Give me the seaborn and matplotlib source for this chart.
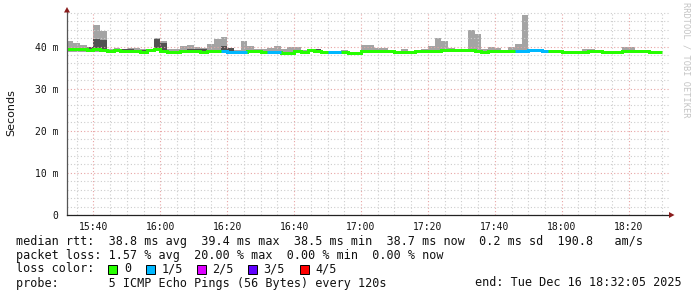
import numpy as np
import pandas as pd
import matplotlib
matplotlib.use("Agg")
import matplotlib.pyplot as plt
from matplotlib.patches import Rectangle, Polygon
import seaborn as sns

# ---------------- data (ms), one value per 2-minute bin starting 15:32 ----------------
bin_start_min = 32          # minutes after 15:00
bin_step_min = 2
view_start_min = 32 + 5 / 60
view_end_min = 212 + 5 / 60

median_ms = [
    39.4, 39.4, 39.35, 39.25, 39.35, 39.15, 38.95, 39.1, 38.95, 38.85,
    38.85, 38.8, 39.2, 39.4, 38.85, 38.6, 38.6, 38.85, 38.85, 38.85,
    38.8, 38.95, 39.05, 39.0, 38.75, 38.75, 38.75, 38.95, 38.9, 38.65,
    38.65, 38.65, 38.55, 38.55, 38.85, 38.75, 39.1, 39.05, 38.8, 38.6,
    38.6, 38.8, 38.5, 38.5, 38.9, 38.9, 38.9, 38.9, 38.9, 38.7,
    38.7, 38.7, 39.0, 39.0, 39.0, 39.0, 39.1, 39.1, 39.1, 39.1,
    39.1, 38.95, 38.7, 38.95, 38.95, 38.95, 38.95, 39.05, 39.0, 39.15,
    39.15, 38.95, 39.0, 39.0, 38.7, 38.7, 38.7, 38.7, 39.0, 39.0,
    38.8, 38.8, 38.8, 39.0, 39.0, 39.0, 39.0, 38.7, 38.7,
]
smoke_max_ms = [
    41.4, 40.8, 40.3, 39.9, 45.2, 43.7, 39.5, 39.6, 39.5, 39.6,
    39.7, 39.4, 39.3, 42.0, 41.4, 39.4, 39.4, 40.1, 40.4, 39.9,
    39.6, 40.6, 41.8, 42.3, 39.6, 39.1, 41.3, 40.1, 39.4, 39.3,
    39.7, 40.1, 39.5, 39.8, 39.8, 39.2, 39.4, 39.3, 39.0, 38.9,
    38.9, 39.1, 38.8, 38.8, 40.4, 40.4, 39.6, 39.6, 39.2, 38.9,
    39.3, 39.0, 39.2, 39.4, 40.1, 42.1, 41.3, 39.6, 39.4, 39.4,
    43.9, 43.0, 39.4, 39.9, 39.6, 39.2, 39.9, 40.6, 47.5, 39.3,
    39.3, 39.1, 39.1, 39.1, 38.9, 38.9, 38.9, 39.4, 39.4, 39.1,
    38.9, 38.9, 38.9, 40.0, 40.0, 39.1, 39.1, 38.9, 38.9,
]
smoke_min_ms = [
    38.6, 38.6, 38.6, 38.8, 38.6, 38.6, 38.7, 38.8, 38.7, 38.6,
    38.6, 38.5, 38.9, 39.0, 38.6, 38.4, 38.4, 38.6, 38.6, 38.6,
    38.5, 38.7, 38.8, 38.7, 38.5, 38.5, 38.5, 38.7, 38.6, 38.4,
    38.4, 38.4, 38.3, 38.3, 38.6, 38.5, 38.8, 38.8, 38.5, 38.4,
    38.4, 38.6, 38.3, 38.3, 38.7, 38.7, 38.7, 38.7, 38.7, 38.5,
    38.5, 38.5, 38.8, 38.8, 38.8, 38.8, 38.9, 38.9, 38.9, 38.9,
    38.9, 38.7, 38.5, 38.7, 38.7, 38.7, 38.7, 38.8, 38.6, 38.9,
    38.9, 38.7, 38.8, 38.8, 38.5, 38.5, 38.5, 38.5, 38.8, 38.8,
    38.6, 38.6, 38.6, 38.8, 38.8, 38.8, 38.8, 38.5, 38.5,
]
dark_max_ms = [
    39.5, 39.5, 39.5, 39.9, 41.9, 41.5, 39.1, 39.5, 39.4, 39.4,
    39.2, 39.2, 39.3, 41.9, 40.8, 38.7, 38.9, 39.0, 39.4, 39.5,
    39.3, 39.0, 39.1, 40.2, 39.6, 38.8, 38.8, 39.0, 39.0, 38.8,
    38.8, 38.8, 38.7, 38.7, 38.9, 38.8, 39.2, 39.3, 38.9, 38.7,
    38.7, 39.0, 38.6, 38.6, 39.0, 39.0, 39.0, 39.0, 39.0, 38.8,
    38.8, 38.8, 39.1, 39.1, 39.1, 39.1, 39.2, 39.2, 39.2, 39.2,
    39.2, 39.0, 38.8, 39.0, 39.0, 39.0, 39.0, 39.1, 39.1, 39.2,
    39.2, 39.0, 39.1, 39.1, 38.8, 38.8, 38.8, 38.8, 39.1, 39.1,
    38.9, 38.9, 38.9, 39.1, 39.1, 39.1, 39.1, 38.8, 38.8,
]
dark_min_ms = [
    39.3, 39.3, 39.2, 39.1, 39.0, 39.0, 38.9, 39.0, 38.9, 38.8,
    38.8, 38.7, 39.1, 39.3, 38.8, 38.5, 38.5, 38.8, 38.8, 38.8,
    38.7, 38.9, 39.0, 38.9, 38.7, 38.7, 38.7, 38.9, 38.8, 38.6,
    38.6, 38.6, 38.5, 38.5, 38.8, 38.7, 39.0, 39.0, 38.7, 38.5,
    38.5, 38.7, 38.4, 38.4, 38.8, 38.8, 38.8, 38.8, 38.8, 38.6,
    38.6, 38.6, 38.9, 38.9, 38.9, 38.9, 39.0, 39.0, 39.0, 39.0,
    39.0, 38.9, 38.6, 38.9, 38.9, 38.9, 38.9, 39.0, 38.9, 39.1,
    39.1, 38.9, 38.9, 38.9, 38.6, 38.6, 38.6, 38.6, 38.9, 38.9,
    38.7, 38.7, 38.7, 38.9, 38.9, 38.9, 38.9, 38.6, 38.6,
]
loss_count = [
    0, 0, 0, 0, 0, 0, 0, 0, 0, 0,
    0, 0, 0, 0, 0, 0, 0, 0, 0, 0,
    0, 0, 0, 1, 1, 1, 1, 0, 0, 0,
    1, 1, 0, 0, 0, 0, 0, 0, 0, 1,
    1, 0, 0, 0, 0, 0, 0, 0, 0, 0,
    0, 0, 0, 0, 0, 0, 0, 0, 0, 0,
    0, 0, 0, 0, 0, 0, 0, 1, 1, 1,
    1, 1, 0, 0, 0, 0, 0, 0, 0, 0,
    0, 0, 0, 0, 0, 0, 0, 0, 0,
]
loss_labels = ["0", "1/5", "2/5", "3/5", "4/5"]
loss_colors = ["#26ff00", "#00b8ff", "#dd00ff", "#6000ff", "#ff0000"]

x_tick_minutes = [40, 60, 80, 100, 120, 140, 160, 180, 200]
x_tick_labels = ["15:40", "16:00", "16:20", "16:40", "17:00", "17:20", "17:40", "18:00", "18:20"]
y_tick_values = [0, 10, 20, 30, 40]
y_tick_labels = ["0", "10 m", "20 m", "30 m", "40 m"]

legend_lines = [
    "median rtt:  38.8 ms avg  39.4 ms max  38.5 ms min  38.7 ms now  0.2 ms sd  190.8   am/s",
    "packet loss: 1.57 % avg  20.00 % max  0.00 % min  0.00 % now",
    "loss color:",
    "probe:       5 ICMP Echo Pings (56 Bytes) every 120s",
]
end_text = "end: Tue Dec 16 18:32:05 2025"
watermark = "RRDTOOL / TOBI OETIKER"

# ---------------- drawing ----------------
sns.set_theme(style="white")
plt.rcParams['font.family'] = ['DejaVu Sans Mono', 'DejaVu Sans']

W, H = 697, 297
fig = plt.figure(figsize=(W / 100, H / 100), dpi=100, facecolor="white")
ax = fig.add_axes([67 / W, 1 - 215 / H, 602 / W, 203 / H])
ax.set_facecolor("white")
ax.set_axisbelow(False)   # grid drawn at zorder 2.5 (above smoke, below median)

n = len(median_ms)
edges = bin_start_min + bin_step_min * np.arange(n + 1)


def ext(a):
    a = np.asarray(a, dtype=float)
    return np.append(a, a[-1])


ax.fill_between(edges, ext(smoke_min_ms), ext(smoke_max_ms), step="post",
                color="#a4a4a4", lw=0, zorder=1)
ax.fill_between(edges, ext(dark_min_ms), ext(dark_max_ms), step="post",
                color="#525252", lw=0, zorder=1.2)

df = pd.DataFrame({"t": edges, "ms": ext(median_ms)})
sns.lineplot(data=df, x="t", y="ms", drawstyle="steps-post", color=loss_colors[0],
             linewidth=2.16, estimator=None, ax=ax, zorder=6,
             solid_capstyle="butt", solid_joinstyle="miter")

# loss-coloured runs
loss = np.asarray(loss_count)
i = 0
while i < n:
    if loss[i] > 0:
        j = i
        while j < n and loss[j] == loss[i]:
            j += 1
        seg = pd.DataFrame({"t": edges[i:j + 1],
                            "ms": np.append(np.asarray(median_ms[i:j]), median_ms[j - 1])})
        sns.lineplot(data=seg, x="t", y="ms", drawstyle="steps-post",
                     color=loss_colors[loss[i]], linewidth=2.16, estimator=None,
                     ax=ax, zorder=7, solid_capstyle="butt", solid_joinstyle="miter")
        i = j
    else:
        i += 1

ax.set_xlim(view_start_min, view_end_min)
ax.set_ylim(0, 48.2)
ax.set_xlabel("")
ax.set_ylabel("")

ax.set_xticks(x_tick_minutes)
ax.set_xticklabels(x_tick_labels)
ax.set_xticks(np.arange(35, 212, 5), minor=True)
ax.set_yticks(y_tick_values)
ax.set_yticklabels(y_tick_labels)
ax.set_yticks(np.arange(0, 49, 2), minor=True)

ax.grid(which="minor", color="#cdcdcd", linestyle=(0, (1, 2)), linewidth=0.8)
ax.grid(which="major", color="#e8a4a4", linestyle=(0, (1, 2)), linewidth=0.8)

ax.tick_params(axis="both", which="both", length=0)
ax.tick_params(axis="x", pad=5, labelsize=7, colors="#111111")
ax.tick_params(axis="y", pad=6, labelsize=7, colors="#111111")

for s in ["top", "right"]:
    ax.spines[s].set_visible(False)
ax.spines["left"].set_color("#555555")
ax.spines["bottom"].set_color("#222222")
ax.spines["left"].set_linewidth(0.9)
ax.spines["bottom"].set_linewidth(0.9)
ax.spines["left"].set_zorder(8)
ax.spines["bottom"].set_zorder(8)


def px(x, y):
    return (x / W, 1 - y / H)


arrow_col = "#8a1c1c"
fig.add_artist(Polygon([px(64, 12.5), px(70, 12.5), px(67, 7)], closed=True,
                       transform=fig.transFigure, color=arrow_col, lw=0))
fig.add_artist(Polygon([px(669, 212), px(669, 218), px(674.5, 215)], closed=True,
                       transform=fig.transFigure, color=arrow_col, lw=0))

fig.text(*px(11, 113), "Seconds", rotation=90, ha="center", va="center",
         fontsize=8, family="DejaVu Sans", color="#111111")
fig.text(*px(686, 60), watermark, rotation=270, ha="center", va="center",
         fontsize=6.2, color="#c4c4c4")

ys = [241, 255, 269, 283]
for s, y in zip(legend_lines, ys):
    fig.text(*px(16, y), s, ha="left", va="center", fontsize=8.5, color="#111111")
fig.text(*px(682, 283), end_text, ha="right", va="center", fontsize=8.5, color="#111111")

box_x = [108, 146, 197, 248, 300]
lab_x = [124, 162, 212, 263, 315]
for bx, lx, lab, col in zip(box_x, lab_x, loss_labels, loss_colors):
    x0, y0 = px(bx, 273.5)
    fig.add_artist(Rectangle((x0, y0), 9 / W, 9 / H, transform=fig.transFigure,
                             facecolor=col, edgecolor="#000000", lw=0.7))
    fig.text(*px(lx, 269), lab, ha="left", va="center", fontsize=8.5, color="#111111")

fig.savefig("out.png", dpi=100, facecolor="white")
